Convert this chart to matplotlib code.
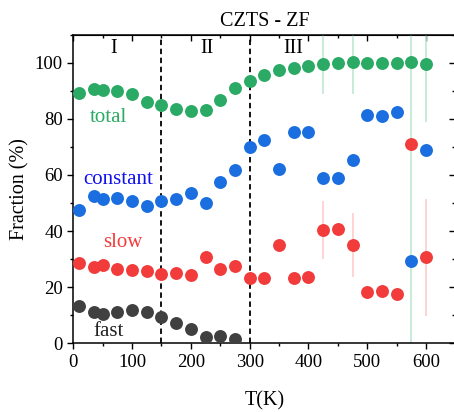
import numpy as np
import matplotlib
matplotlib.use("Agg")
import matplotlib.pyplot as plt
from matplotlib.ticker import MultipleLocator

plt.rcParams['font.family'] = ['Liberation Serif', 'DejaVu Serif']

# Temperatures (K)
T = [10, 35, 50, 75, 100, 125, 150, 175, 200, 225, 250, 275, 300,
     325, 350, 375, 400, 425, 450, 475, 500, 525, 550, 575, 600]

total = [89.3, 90.7, 90.2, 90.0, 88.7, 86.1, 84.8, 83.4, 82.9, 83.1, 86.9, 90.9, 93.5,
         95.5, 97.4, 98.2, 98.8, 99.5, 99.9, 100.2, 99.9, 99.9, 99.9, 100.2, 99.6]
total_err = [0, 0, 0, 0, 0, 0, 0, 0, 0, 0, 0, 0, 0,
             0, 0, 0, 0, 10.5, 0, 11.3, 1.8, 1.8, 1.8, 105.0, 20.8]

constant = [47.5, 52.4, 51.5, 51.9, 50.6, 49.0, 50.6, 51.5, 53.6, 50.0, 57.4, 61.9, 70.0,
            72.3, 62.3, 75.2, 75.2, 58.9, 58.9, 65.2, 81.5, 81.1, 82.3, 29.2, 68.9]

slow = [28.7, 27.1, 28.0, 26.4, 26.2, 25.7, 24.8, 24.9, 24.3, 30.6, 26.5, 27.6, 23.4,
        23.3, 35.2, 23.1, 23.6, 40.5, 40.9, 35.2, 18.3, 18.8, 17.5, 71.2, 30.6]
slow_err = [0, 0, 0, 0, 0, 0, 0, 0, 0, 0, 0, 0, 0,
            0, 0, 0, 0, 10.3, 0, 11.4, 2.0, 2.0, 2.0, 0, 20.7]

T_fast = [10, 35, 50, 75, 100, 125, 150, 175, 200, 225, 250, 275]
fast = [13.3, 11.1, 10.6, 11.3, 11.7, 11.3, 9.3, 7.3, 5.2, 2.4, 2.6, 1.4]

regions = ["I", "II", "III"]
region_x = [68, 227, 375]
boundaries = [150, 300]

c_green = "#2aaa64"
c_blue = "#1a6ee0"
c_red = "#f23c3c"
c_black = "#404040"

W, H = 454, 412
fig = plt.figure(figsize=(W / 100, H / 100), dpi=100)
ax = fig.add_axes([73.3 / W, 1 - 343.3 / H, (455.4 - 73.3) / W, (343.3 - 34.7) / H])

ms = 9.3
# error bars (drawn behind the points)
ax.errorbar(T, total, yerr=total_err, fmt='none', ecolor="#bfe8d2", elinewidth=1.2, zorder=1)
ax.errorbar(T, slow, yerr=slow_err, fmt='none', ecolor="#ffcccc", elinewidth=1.2, zorder=1)

for xs, ys, c in [(T, total, c_green), (T, constant, c_blue),
                  (T, slow, c_red), (T_fast, fast, c_black)]:
    ax.plot(xs, ys, 'o', ms=ms, color=c, mec='none', zorder=3)

for b in boundaries:
    ax.axvline(b, color='black', ls=(0, (3, 2)), lw=1.3, zorder=2)

for name, x in zip(regions, region_x):
    ax.text(x, 105, name, ha='center', va='center', fontsize=14.5)

ax.text(60, 80.6, "total", color=c_green, ha='center', va='center', fontsize=15)
ax.text(77, 58.3, "constant", color="#1010ee", ha='center', va='center', fontsize=15)
ax.text(85, 36, "slow", color=c_red, ha='center', va='center', fontsize=15)
ax.text(60, 4.1, "fast", color="#222222", ha='center', va='center', fontsize=15)

ax.set_xlim(0, 650)
ax.set_ylim(0, 110)
ax.xaxis.set_major_locator(MultipleLocator(100))
ax.xaxis.set_minor_locator(MultipleLocator(50))
ax.yaxis.set_major_locator(MultipleLocator(20))
ax.yaxis.set_minor_locator(MultipleLocator(10))

ax.tick_params(axis='x', which='both', direction='out', top=False, labelsize=13.5, pad=3)
ax.tick_params(axis='y', which='both', direction='out', right=False, labelsize=13.5, pad=3)
ax.tick_params(which='major', length=4.5, width=1.0)
ax.tick_params(which='minor', length=2.5, width=1.0)

# mirrored inward ticks on top/right
axt = ax.secondary_xaxis('top')
axt.xaxis.set_major_locator(MultipleLocator(100))
axt.xaxis.set_minor_locator(MultipleLocator(50))
axt.tick_params(which='both', direction='in', labeltop=False, width=1.0)
axt.tick_params(which='major', length=4.5)
axt.tick_params(which='minor', length=2.5)
axr = ax.secondary_yaxis('right')
axr.yaxis.set_major_locator(MultipleLocator(20))
axr.yaxis.set_minor_locator(MultipleLocator(10))
axr.tick_params(which='both', direction='in', labelright=False, width=1.0)
axr.tick_params(which='major', length=4.5)
axr.tick_params(which='minor', length=2.5)

for s in ax.spines.values():
    s.set_linewidth(1.1)

ax.set_xlabel("T(K)", fontsize=14.5, labelpad=15)
ax.set_ylabel("Fraction (%)", fontsize=14.5, labelpad=4)
ax.set_title("CZTS - ZF", fontsize=14.5, pad=6)

fig.savefig("out.png", dpi=100)
